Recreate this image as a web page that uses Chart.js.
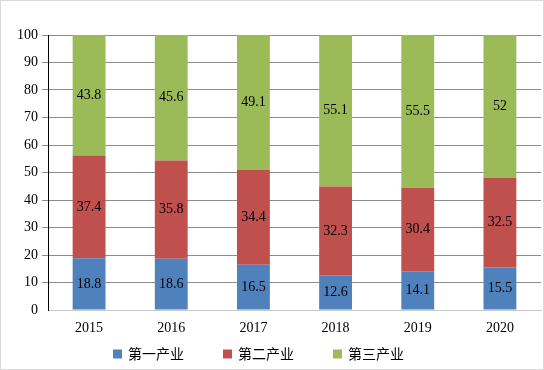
<!DOCTYPE html>
<html>
<head>
<meta charset="utf-8">
<script src="https://cdn.jsdelivr.net/npm/chart.js@4"></script>
<style>
  html, body { margin: 0; padding: 0; background: #fff; }
  #wrap { width: 544px; height: 370px; box-sizing: border-box; border: 1px solid #d9d9d9; }
</style>
</head>
<body>
<div id="wrap"><canvas id="chart" width="542" height="368"></canvas></div>
<script>
// Data
const years = ['2015', '2016', '2017', '2018', '2019', '2020'];
const seriesNames = ['第一产业', '第二产业', '第三产业'];
const primary = [18.8, 18.6, 16.5, 12.6, 14.1, 15.5];
const secondary = [37.4, 35.8, 34.4, 32.3, 30.4, 32.5];
const tertiary = [43.8, 45.6, 49.1, 55.1, 55.5, 52];
const colors = ['#4F81BD', '#C0504D', '#9BBB59'];

// Label nilai di tengah tiap segmen batang
const barLabels = {
    id: 'barLabels',
    afterDatasetsDraw(chart) {
        const ctx = chart.ctx;
        ctx.save();
        ctx.font = '14px "Liberation Serif", "Times New Roman", serif';
        ctx.fillStyle = '#000';
        ctx.textAlign = 'center';
        ctx.textBaseline = 'middle';
        chart.data.datasets.forEach((ds, i) => {
            chart.getDatasetMeta(i).data.forEach((bar, j) => {
                ctx.fillText(String(ds.data[j]), bar.x, (bar.y + bar.base) / 2);
            });
        });
        ctx.restore();
    }
};

// Legenda sederhana di bawah (jarak antar item lebar seperti aslinya)
const bottomLegend = {
    id: 'bottomLegend',
    afterDraw(chart) {
        const ctx = chart.ctx;
        const y = chart.height - 15;
        const step = 110;
        ctx.save();
        ctx.font = '14px "Noto Sans CJK SC", sans-serif';
        ctx.textBaseline = 'middle';
        ctx.textAlign = 'left';
        chart.data.datasets.forEach((ds, i) => {
            const x = 112 + i * step;
            ctx.fillStyle = ds.backgroundColor;
            ctx.fillRect(x, y - 4.5, 9, 9);
            ctx.fillStyle = '#000';
            ctx.fillText(ds.label, x + 15, y);
        });
        ctx.restore();
    }
};

const datasets = [primary, secondary, tertiary].map((d, i) => ({
    label: seriesNames[i],
    data: d,
    backgroundColor: colors[i],
    borderWidth: 0,
    barPercentage: 0.4,
    categoryPercentage: 1
}));

new Chart(document.getElementById('chart').getContext('2d'), {
    type: 'bar',
    data: { labels: years, datasets: datasets },
    options: {
        responsive: false,
        animation: false,
        layout: { padding: { top: 34, right: 2, left: 4, bottom: 29 } },
        plugins: {
            legend: { display: false },
            tooltip: { enabled: false }
        },
        scales: {
            x: {
                stacked: true,
                afterFit(scale) { scale.height = 30; },
                grid: { display: false, drawTicks: false },
                border: { color: '#c8c8c8' },
                ticks: {
                    color: '#000',
                    padding: 10,
                    font: { family: '"Liberation Serif", serif', size: 14 }
                }
            },
            y: {
                stacked: true,
                min: 0,
                max: 100,
                afterFit(scale) { scale.width = 43; },
                grid: {
                    color: (c) => (c.tick && c.tick.value === 0) ? 'rgba(0,0,0,0)' : '#8c8c8c',
                    tickLength: 6
                },
                border: { color: '#000' },
                ticks: {
                    stepSize: 10,
                    color: '#000',
                    padding: 4,
                    font: { family: '"Liberation Serif", serif', size: 14 }
                }
            }
        }
    },
    plugins: [barLabels, bottomLegend]
});
</script>
</body>
</html>
